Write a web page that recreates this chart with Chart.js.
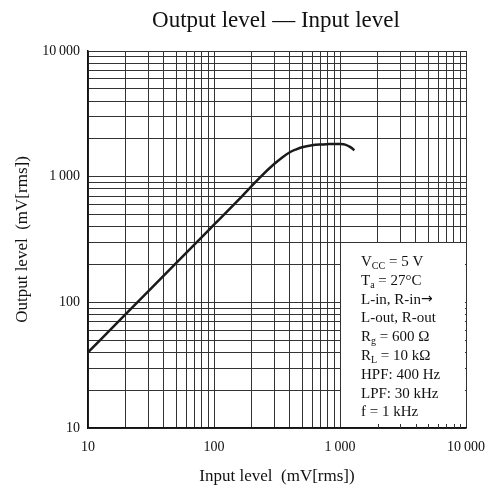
<!DOCTYPE html>
<html>
<head>
<meta charset="utf-8">
<script src="https://cdn.jsdelivr.net/npm/chart.js@4"></script>
<style>
  html, body { margin: 0; padding: 0; background: #fff; }
  #wrap { width: 488px; height: 491px; }
</style>
</head>
<body>
<div id="wrap"><canvas id="myChart" width="488" height="491"></canvas></div>
<script>
// measured curve (mV rms)
const inputLevel = [10, 20, 50, 100, 160, 230, 300, 350, 400, 450, 500, 600, 700, 800, 900, 1000, 1100, 1200, 1300];
const outputLevel = [40, 81, 205, 415, 670, 980, 1260, 1430, 1565, 1650, 1715, 1780, 1805, 1815, 1820, 1818, 1800, 1725, 1625];

// grid lines on both log axes
const gridTicks = [10, 20, 30, 40, 50, 60, 70, 80, 90,
                   100, 200, 300, 400, 500, 600, 700, 800, 900,
                   1000, 2000, 3000, 4000, 5000, 6000, 7000, 8000, 9000, 10000];
const labelValues = [10, 100, 1000, 10000];
const labelTexts = ['10', '100', '1\u2009000', '10\u2009000'];

const conditions = [
    [['V', ''], ['CC', 'sub'], [' = 5 V', '']],
    [['T', ''], ['a', 'sub'], [' = 27°C', '']],
    [['L-in, R-in', ''], ['\u2192', 'arrow']],
    [['L-out, R-out', '']],
    [['R', ''], ['g', 'sub'], [' = 600 \u03A9', '']],
    [['R', ''], ['L', 'sub'], [' = 10 k\u03A9', '']],
    [['HPF: 400 Hz', '']],
    [['LPF: 30 kHz', '']],
    [['f = 1 kHz', '']]
];

const serif = "'Liberation Serif', 'DejaVu Serif', serif";

function tickLabel(value) {
    const i = labelValues.indexOf(value);
    return i >= 0 ? labelTexts[i] : '';
}

// white box with the test conditions, lower right corner of the plot
const conditionBox = {
    id: 'conditionBox',
    beforeDatasetsDraw(chart) {
        const {ctx, chartArea, scales: {x, y}} = chart;
        const x0 = Math.round(x.getPixelForValue(1000)) + 1;
        const y0 = Math.round(y.getPixelForValue(300)) + 1;
        ctx.save();
        ctx.fillStyle = '#fff';
        ctx.fillRect(x0, y0, chartArea.right - 1 - x0, chartArea.bottom - 1 - y0);
        // small ticks left on the bottom edge
        ctx.strokeStyle = '#333';
        ctx.lineWidth = 1;
        ctx.beginPath();
        gridTicks.filter(v => v > 1000 && v < 10000).forEach(v => {
            const px = Math.round(x.getPixelForValue(v)) + 0.5;
            ctx.moveTo(px, chartArea.bottom);
            ctx.lineTo(px, chartArea.bottom - 4);
        });
        ctx.stroke();

        ctx.fillStyle = '#111';
        ctx.textBaseline = 'alphabetic';
        let by = y0 + 23;
        conditions.forEach(line => {
            let cx = x0 + 20;
            line.forEach(([txt, kind]) => {
                if (kind === 'sub') {
                    ctx.font = '10px ' + serif;
                    ctx.fillText(txt, cx, by + 3);
                } else if (kind === 'arrow') {
                    ctx.font = "14px 'DejaVu Sans', sans-serif";
                    ctx.fillText(txt, cx, by - 1);
                } else {
                    ctx.font = '15px ' + serif;
                    ctx.fillText(txt, cx, by);
                }
                cx += ctx.measureText(txt).width;
            });
            by += 18.8;
        });
        ctx.restore();
    }
};

const chartTitle = {
    id: 'chartTitle',
    afterDraw(chart) {
        const ctx = chart.ctx;
        ctx.save();
        ctx.font = '23px ' + serif;
        ctx.fillStyle = '#111';
        ctx.textAlign = 'center';
        ctx.textBaseline = 'alphabetic';
        ctx.fillText('Output level \u2014 Input level', 276, 27);
        ctx.restore();
    }
};

const ctx = document.getElementById('myChart').getContext('2d');
new Chart(ctx, {
    type: 'line',
    data: {
        datasets: [{
            data: inputLevel.map((v, i) => ({x: v, y: outputLevel[i]})),
            borderColor: '#1a1a1a',
            borderWidth: 2.5,
            pointRadius: 0,
            fill: false,
            cubicInterpolationMode: 'monotone'
        }]
    },
    options: {
        responsive: false,
        animation: false,
        layout: {padding: {left: 0, right: 22, top: 51, bottom: 0}},
        plugins: {legend: {display: false}, tooltip: {enabled: false}},
        scales: {
            x: {
                type: 'logarithmic',
                min: 10,
                max: 10000,
                afterBuildTicks: s => { s.ticks = gridTicks.map(v => ({value: v})); },
                afterFit: s => { s.height = 63; s.paddingLeft = 0; s.paddingRight = 0; },
                grid: {color: '#333', lineWidth: 1, drawTicks: false},
                border: {color: '#111', width: 1.5},
                ticks: {
                    autoSkip: false,
                    maxRotation: 0,
                    padding: 11,
                    color: '#111',
                    font: {family: serif, size: 14},
                    callback: v => tickLabel(v)
                },
                title: {
                    display: true,
                    text: 'Input level  (mV[rms])',
                    color: '#111',
                    font: {family: serif, size: 17},
                    padding: {top: 0, bottom: 4}
                }
            },
            y: {
                type: 'logarithmic',
                min: 10,
                max: 10000,
                afterBuildTicks: s => { s.ticks = gridTicks.map(v => ({value: v})); },
                afterFit: s => { s.width = 88; s.paddingTop = 0; s.paddingBottom = 0; },
                grid: {color: '#333', lineWidth: 1, drawTicks: false},
                border: {color: '#111', width: 1.5},
                ticks: {
                    autoSkip: false,
                    padding: 8,
                    color: '#111',
                    font: {family: serif, size: 14},
                    callback: v => tickLabel(v)
                },
                title: {
                    display: true,
                    text: 'Output level  (mV[rms])',
                    color: '#111',
                    font: {family: serif, size: 17},
                    padding: {top: 12, bottom: 0}
                }
            }
        }
    },
    plugins: [conditionBox, chartTitle]
});
</script>
</body>
</html>
